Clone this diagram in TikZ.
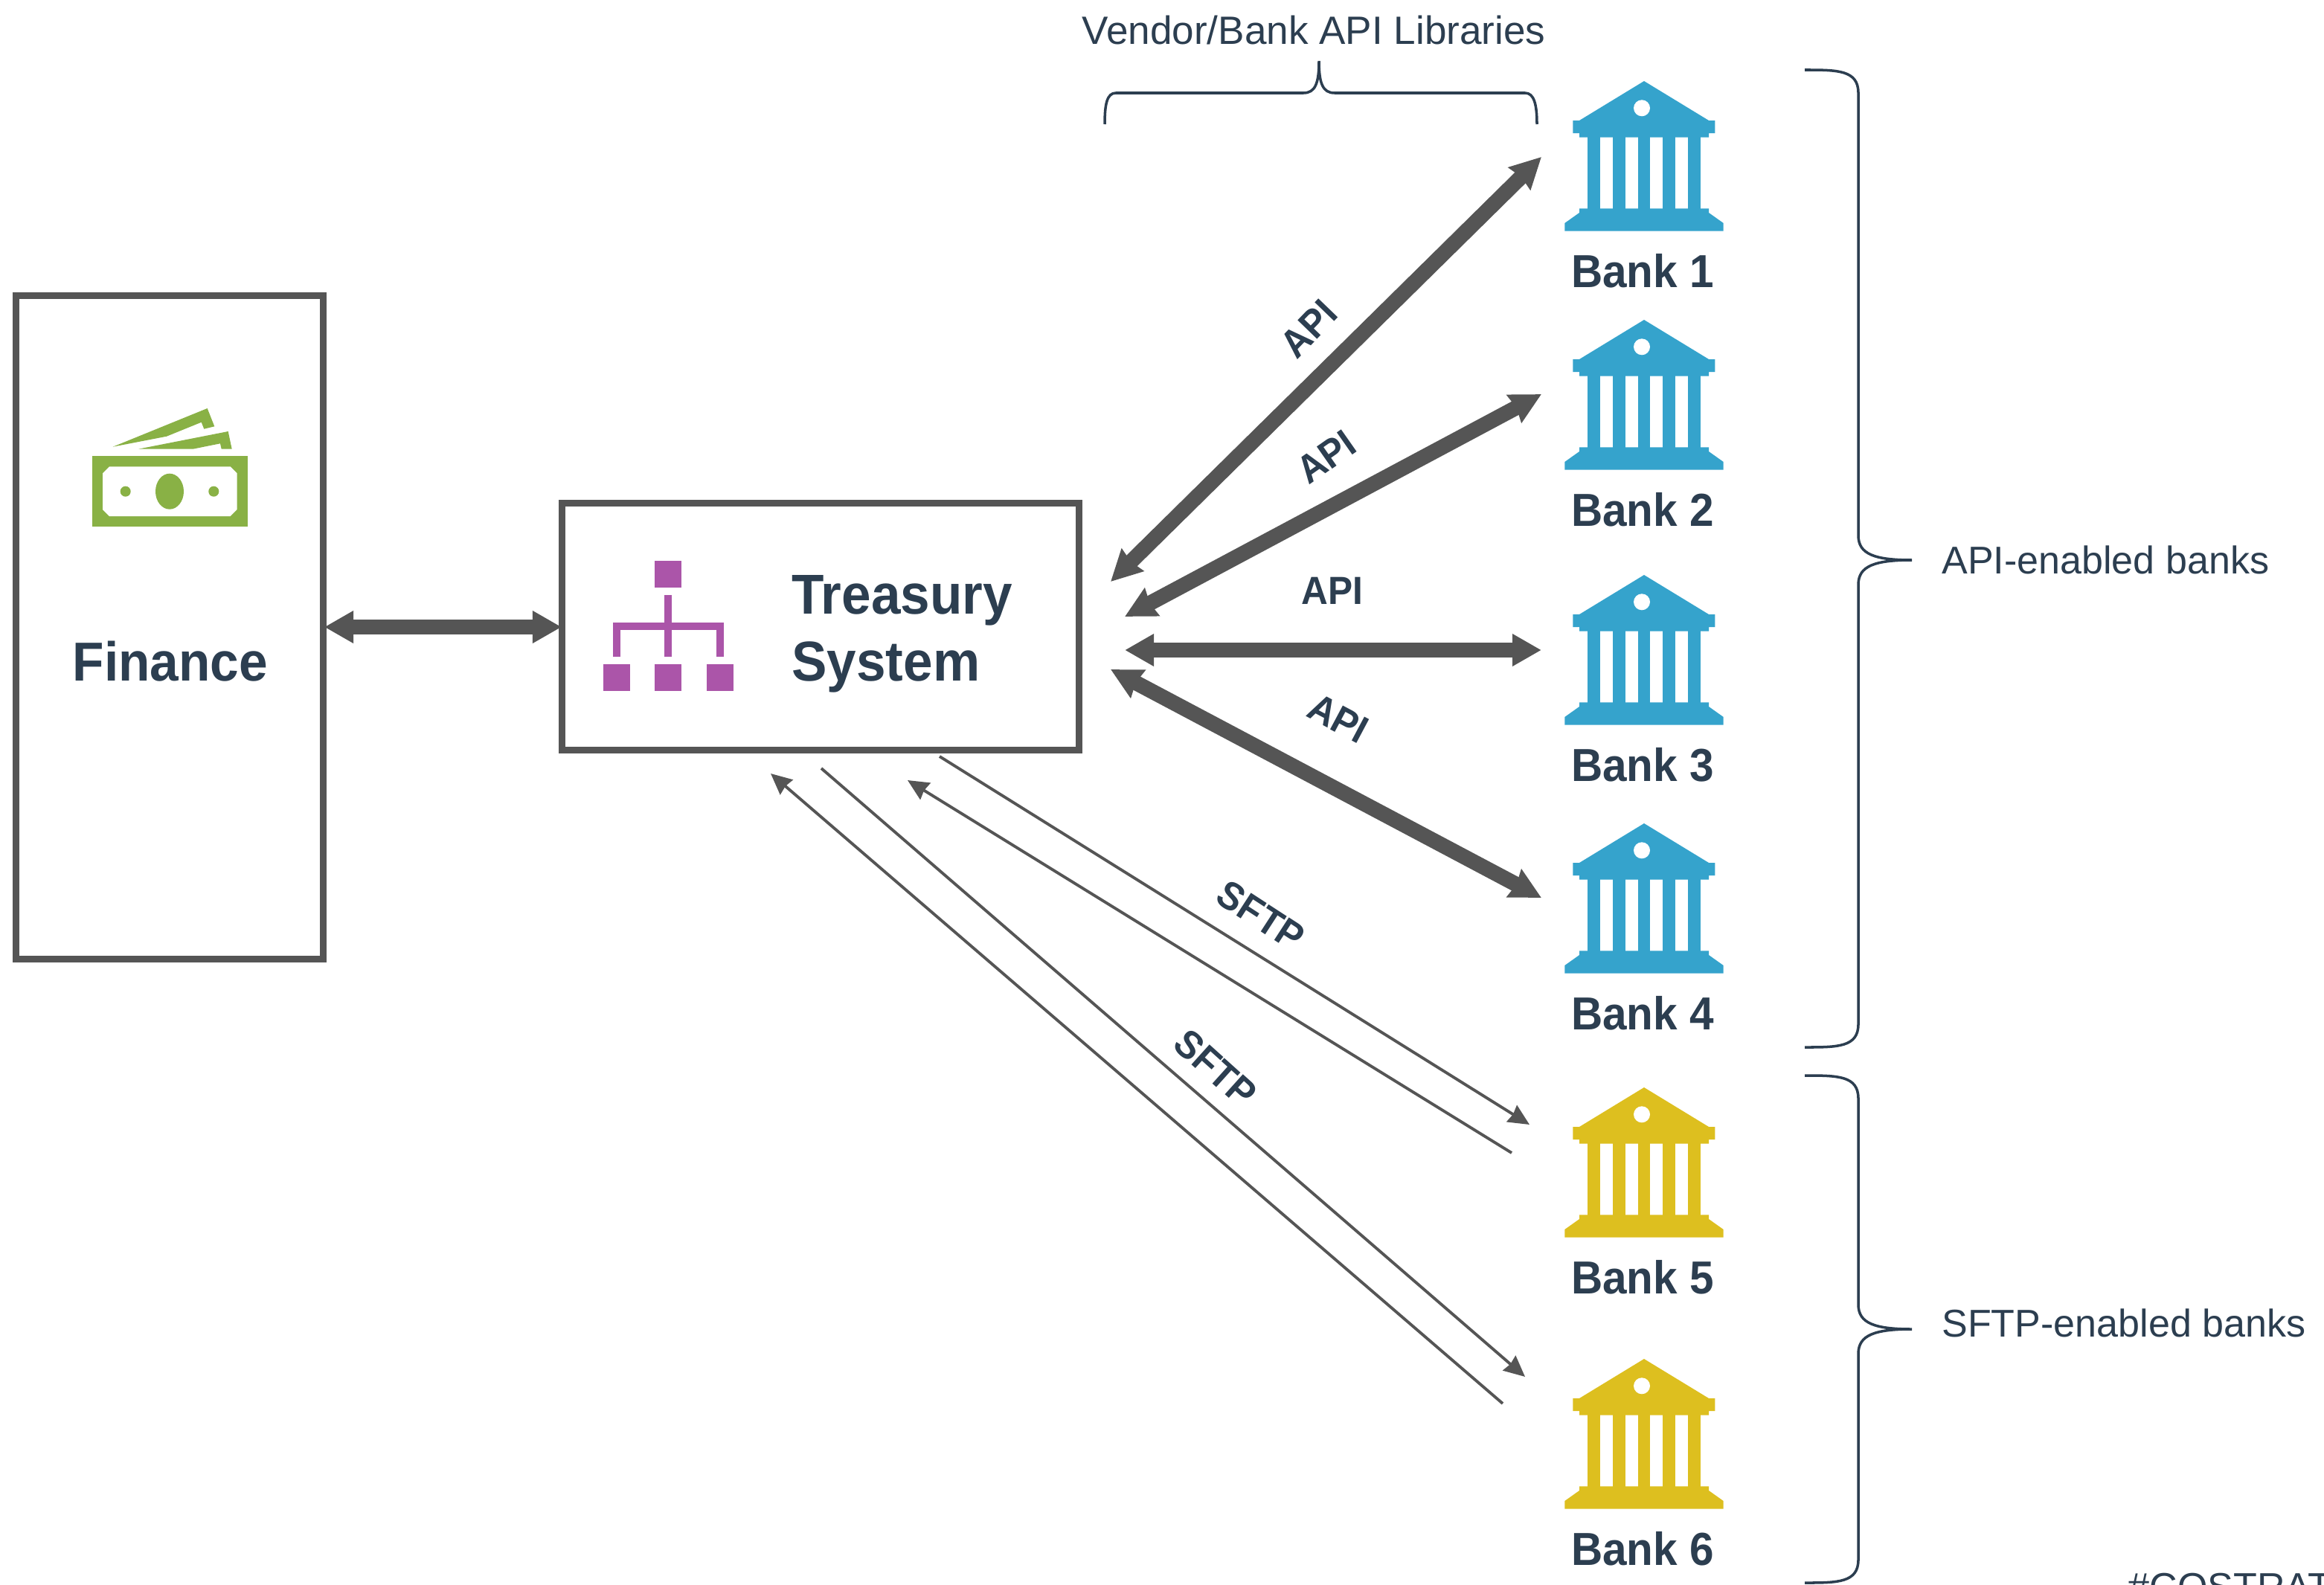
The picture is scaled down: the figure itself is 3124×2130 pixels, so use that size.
\documentclass[tikz,border=0pt]{standalone}
\usepackage{fontspec}
\setmainfont{Liberation Sans}
\newfontfamily\boldface[FakeStretch=0.94]{Liberation Sans Bold}
\usetikzlibrary{arrows.meta}
\definecolor{textcol}{HTML}{2C3E50}
\definecolor{linecol}{HTML}{555555}
\definecolor{bankblue}{HTML}{35A3CC}
\definecolor{bankyellow}{HTML}{DDBF1F}
\definecolor{cashgreen}{HTML}{89B145}
\definecolor{orgpurple}{HTML}{AB55A9}
\tikzset{
  boxnode/.style={draw=linecol,line width=2.56pt,inner sep=0pt},
  title/.style={text=textcol,font=\boldface\fontsize{21}{25.6}\selectfont,align=left},
  banklabel/.style={text=textcol,font=\boldface\fontsize{17.7}{21}\selectfont,anchor=base},
  linklabel/.style={text=textcol,font=\boldface\fontsize{15}{18}\selectfont},
  note/.style={text=textcol,font=\fontsize{14.8}{18}\selectfont},
  brace/.style={draw=textcol,line width=1pt},
  apilink/.style={draw=linecol,line width=5.8pt,{Stealth[length=0.41cm,width=0.41cm,inset=0.03cm]}-{Stealth[length=0.41cm,width=0.41cm,inset=0.03cm]}},
  flatlink/.style={draw=linecol,line width=5.8pt,{Triangle[length=0.39cm,width=0.41cm]}-{Triangle[length=0.39cm,width=0.41cm]}},
  sftplink/.style={draw=linecol,line width=1.1pt,-{Stealth[length=0.28cm,width=0.26cm,inset=0.02cm]}},
  pics/bankicon/.style={code={
    \fill[#1] (0,0)--(87,53)--(95.3,53)--(95.3,70)--(87,70)--(87,75.7)--(-87,75.7)--(-87,70)
      --(-95.7,70)--(-95.7,53)--(-87,53)--cycle;
    \foreach \cx in {-67.3,-33.6,0,33.6,67.3}
      \fill[#1] (\cx-8.4,75) rectangle (\cx+8.4,172);
    \fill[#1] (-87,171.3)--(87,171.3)--(87,177)--(106.7,191)--(106.7,201.7)--(-106.7,201.7)
      --(-106.7,191)--(-87,177)--cycle;
    \fill[white] (-3,36.3) circle[radius=11];
  }}
}
\begin{document}
\begin{tikzpicture}[x=0.01cm,y=-0.01cm]
\useasboundingbox (0,0) rectangle (3124,2130);
% boxes
\node[boxnode,minimum width=4.13cm,minimum height=8.91cm] (finance) at (228,843.5) {};
\node[boxnode,minimum width=6.94cm,minimum height=3.31cm] (treasury) at (1103,842.5) {};
\node[title,anchor=center] (financelabel) at (229,889) {Finance};
\node[title,anchor=west,font=\boldface\fontsize{21.5}{25.6}\selectfont] (treasurylabel) at (1052,852) {Treasury\\System};
% money icon
\fill[cashgreen] (123.7,613.3) rectangle (332.7,708.3);
\fill[white] (147,627.3)--(309.7,627.3)--(318.7,636.3)--(318.7,685)--(309.7,694)--(147,694)--(138,685)--(138,636.3)--cycle;
\fill[cashgreen] (228,660.7) ellipse[x radius=19,y radius=24];
\fill[cashgreen] (168.7,660.7) circle[radius=7];
\fill[cashgreen] (287.3,660.7) circle[radius=7];
\fill[cashgreen] (151.7,600.7)--(278.7,549)--(288.3,573.3)--(274.3,576.7)--(270.7,567.7)--(224,586.7)--cycle;
\fill[cashgreen] (186,603.7)--(306.7,580)--(311.7,603.7)--(297.7,603.7)--(296,596.3)--(259.3,603.7)--cycle;
% org icon
\fill[orgpurple] (880,754) rectangle (916,790);
\foreach \x in {811,880.3,950}
  \fill[orgpurple] (\x,893) rectangle (\x+36,929);
\draw[orgpurple,line width=2.9pt] (828.8,883)--(828.8,841.8)--(967.7,841.8)--(967.7,883);
\draw[orgpurple,line width=2.9pt] (898.3,800)--(898.3,883);
% banks
\foreach \n/\y/\c in {1/109/bankblue,2/430/bankblue,3/773/bankblue,4/1107/bankblue,5/1462/bankyellow,6/1827/bankyellow}{
  \pic at (2210,\y) {bankicon=\c};
  \node[banklabel] (bank\n) at (2208,\y+277) {Bank \n};
}
% link ends
\coordinate (financeport) at (436,843);
\coordinate (treasuryport) at (755,843);
\coordinate (apione) at (2072,211);
\coordinate (apitwo) at (2072,530);
\coordinate (apithree) at (2072,874);
\coordinate (apifour) at (2072,1207);
\coordinate (tsone) at (1493,782);
\coordinate (tstwo) at (1512,829);
\coordinate (tsthree) at (1512,874);
\coordinate (tsfour) at (1493,900);
\coordinate (sftpa) at (1263,1017);
\coordinate (sftpb) at (1220,1049);
\coordinate (sftpc) at (1104,1033);
\coordinate (sftpd) at (1036,1040);
\coordinate (bankfivein) at (2056,1512);
\coordinate (bankfiveout) at (2032,1550);
\coordinate (banksixin) at (2050,1851);
\coordinate (banksixout) at (2020,1887);
% links
\draw[flatlink] (financeport)--(treasuryport);
\draw[apilink] (tsone)--(apione);
\draw[apilink] (tstwo)--(apitwo);
\draw[flatlink] (tsthree)--(apithree);
\draw[apilink] (tsfour)--(apifour);
\draw[sftplink] (sftpa)--(bankfivein);
\draw[sftplink] (bankfiveout)--(sftpb);
\draw[sftplink] (sftpc)--(banksixin);
\draw[sftplink] (banksixout)--(sftpd);
% link labels
\node[linklabel,rotate=46] (apilabela) at (1759,442) {API};
\node[linklabel,rotate=35] (apilabelb) at (1783,614) {API};
\node[linklabel] (apilabelc) at (1791,794) {API};
\node[linklabel,rotate=-28] (apilabeld) at (1799,966) {API};
\node[linklabel,rotate=-33] (sftplabela) at (1695,1231) {SFTP};
\node[linklabel,rotate=-42] (sftplabelb) at (1634,1436) {SFTP};
% braces
\draw[brace] (1485,167) .. controls (1485,140) and (1488,125) .. (1500,125)--(1752,125)
  .. controls (1768,125) and (1773,112) .. (1773,82)
  .. controls (1773,112) and (1778,125) .. (1794,125)--(2050,125)
  .. controls (2062,125) and (2066,140) .. (2066,167);
\draw[brace] (2426,94) .. controls (2470,94) and (2498,94) .. (2498,125)--(2498,720)
  .. controls (2498,745) and (2520,753) .. (2570,753)
  .. controls (2520,753) and (2498,761) .. (2498,786)--(2498,1377)
  .. controls (2498,1408) and (2470,1408) .. (2426,1408);
\draw[brace] (2426,1446) .. controls (2470,1446) and (2498,1446) .. (2498,1477)--(2498,1754)
  .. controls (2498,1779) and (2520,1787) .. (2570,1787)
  .. controls (2520,1787) and (2498,1795) .. (2498,1820)--(2498,2097)
  .. controls (2498,2128) and (2470,2128) .. (2426,2128);
% notes
\node[note,font=\fontsize{15.1}{18}\selectfont] (vendornote) at (1766,41) {Vendor/Bank API Libraries};
\node[note,anchor=west] (apinote) at (2598,753) {API-enabled banks};
\node[note,anchor=west] (sftpnote) at (2598,1779) {SFTP-enabled banks};
\node[note,anchor=base west,inner sep=0pt] (hashnote) at (2860,2151) {\#COSTRAT};
\end{tikzpicture}
\end{document}
